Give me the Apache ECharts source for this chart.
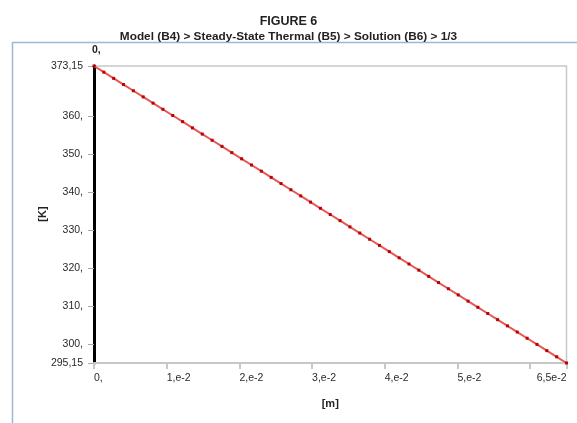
<!DOCTYPE html>
<html>
<head>
<meta charset="utf-8">
<script src="https://cdn.jsdelivr.net/npm/echarts@6/dist/echarts.min.js"></script>
<style>html,body{margin:0;padding:0;background:#fff}#c{width:577px;height:423px}</style>
</head>
<body>
<div id="c"></div>
<script>
// Position along path [m]
var xValues = [0, 0.001354, 0.002708, 0.004063, 0.005417, 0.006771, 0.008125, 0.009479, 0.010833, 0.012188,
  0.013542, 0.014896, 0.01625, 0.017604, 0.018958, 0.020313, 0.021667, 0.023021, 0.024375, 0.025729,
  0.027083, 0.028438, 0.029792, 0.031146, 0.0325, 0.033854, 0.035208, 0.036563, 0.037917, 0.039271,
  0.040625, 0.041979, 0.043333, 0.044688, 0.046042, 0.047396, 0.04875, 0.050104, 0.051458, 0.052813,
  0.054167, 0.055521, 0.056875, 0.058229, 0.059583, 0.060938, 0.062292, 0.063646, 0.065];
// Temperature [K]
var tValues = [373.15, 371.53, 369.90, 368.28, 366.65, 365.03, 363.40, 361.78, 360.15, 358.53,
  356.90, 355.28, 353.65, 352.03, 350.40, 348.78, 347.15, 345.53, 343.90, 342.28,
  340.65, 339.03, 337.40, 335.78, 334.15, 332.53, 330.90, 329.28, 327.65, 326.03,
  324.40, 322.78, 321.15, 319.53, 317.90, 316.28, 314.65, 313.03, 311.40, 309.78,
  308.15, 306.53, 304.90, 303.28, 301.65, 300.03, 298.40, 296.78, 295.15];
var xTicks = [0, 0.01, 0.02, 0.03, 0.04, 0.05, 0.06, 0.065];
var xTickLabels = ['0,', '1,e-2', '2,e-2', '3,e-2', '4,e-2', '5,e-2', '', '6,5e-2'];
var yTicks = [295.15, 300, 310, 320, 330, 340, 350, 360, 373.15];
var yTickLabels = ['295,15', '300,', '310,', '320,', '330,', '340,', '350,', '360,', '373,15'];

var data = xValues.map(function (x, i) { return [x, tValues[i]]; });
var font = 'Liberation Sans';
var chart = echarts.init(document.getElementById('c'));
chart.setOption({
  animation: false,
  textStyle: { fontFamily: font },
  title: [
    { text: 'FIGURE 6', left: 'center', top: 10, textStyle: { fontSize: 12.5, fontWeight: 'bold', color: '#222', fontFamily: font } },
    { text: 'Model (B4) > Steady-State Thermal (B5) > Solution (B6) > 1/3', left: 'center', top: 26, textStyle: { fontSize: 11.8, fontWeight: 'bold', color: '#222', fontFamily: font } }
  ],
  grid: { left: 94, right: 10.5, top: 66, bottom: 60, show: true, borderColor: '#c8c8c8', borderWidth: 1.5 },
  xAxis: {
    type: 'value', min: 0, max: 0.065,
    name: '[m]', nameLocation: 'middle', nameGap: 35,
    nameTextStyle: { fontWeight: 'bold', fontSize: 11, color: '#222', fontFamily: font },
    axisLine: { show: true, lineStyle: { color: '#c8c8c8', width: 2 } },
    axisTick: { show: true, customValues: xTicks, length: 6, lineStyle: { color: '#c8c8c8', width: 2 } },
    axisLabel: {
      customValues: xTicks, margin: 10, color: '#2a2a2a', fontSize: 10.5, fontFamily: font,
      align: 'left', alignMaxLabel: 'right',
      formatter: function (v) { var i = xTicks.indexOf(v); return i >= 0 ? xTickLabels[i] : ''; }
    },
    splitLine: { show: false }
  },
  yAxis: {
    type: 'value', min: 295.15, max: 373.15,
    name: '0,', nameLocation: 'end', nameGap: 10,
    nameTextStyle: { fontWeight: 'bold', fontSize: 10.5, color: '#222', align: 'left', padding: [0, 0, 0, -2], fontFamily: font },
    axisLine: { show: true, onZero: false, lineStyle: { color: '#000', width: 3 } },
    axisTick: { show: true, customValues: yTicks, length: 6, lineStyle: { color: '#aaa', width: 1 } },
    axisLabel: {
      customValues: yTicks, margin: 11, color: '#2a2a2a', fontSize: 10.5, fontFamily: font,
      formatter: function (v) { var i = yTicks.indexOf(v); return i >= 0 ? yTickLabels[i] : ''; }
    },
    splitLine: { show: false }
  },
  graphic: [
    { type: 'line', shape: { x1: 12.5, y1: 42, x2: 12.5, y2: 423 }, style: { stroke: '#9fb6d6', lineWidth: 1.5 } },
    { type: 'line', shape: { x1: 12, y1: 42.5, x2: 577, y2: 42.5 }, style: { stroke: '#9fb6d6', lineWidth: 1.5 } },
    { type: 'text', x: 43, y: 214, rotation: Math.PI / 2, style: { text: '[K]', font: 'bold 11px Liberation Sans', fill: '#222', align: 'center', verticalAlign: 'middle' } }
  ],
  series: [{
    type: 'line', data: data,
    lineStyle: { color: '#e05a5a', width: 2 },
    symbol: 'rect', symbolSize: 3, showSymbol: true,
    itemStyle: { color: '#c00000' }
  }]
});
</script>
</body>
</html>
